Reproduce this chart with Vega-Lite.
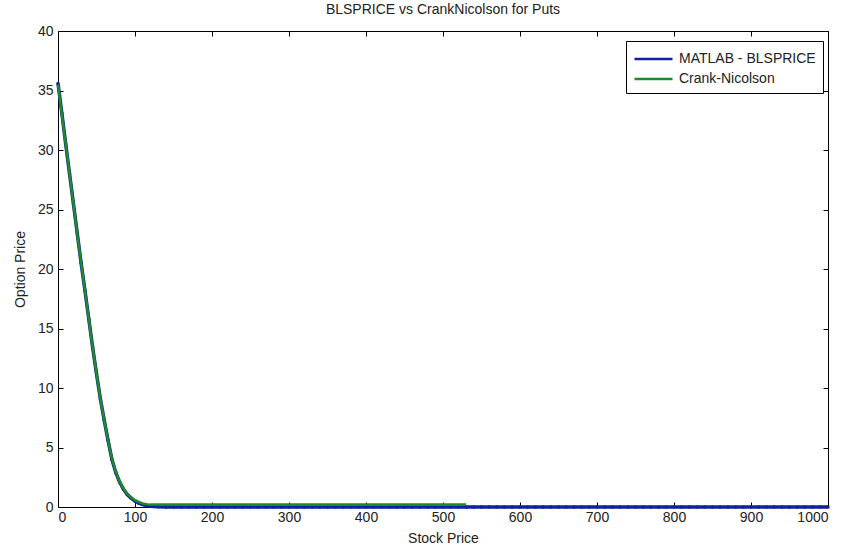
{
  "$schema": "https://vega.github.io/schema/vega-lite/v6.json",
  "width": 770,
  "height": 476,
  "autosize": {"type": "none"},
  "padding": {"left": 58, "top": 31, "right": 18, "bottom": 45},
  "background": "white",
  "config": {
    "view": {"stroke": null},
    "font": "Liberation Sans",
    "axis": {"grid": false, "domainColor": "black", "tickColor": "black", "labelColor": "#222222", "labelFont": "Liberation Sans", "labelFontSize": 14, "titleFont": "Liberation Sans", "titleFontSize": 14, "titleFontWeight": "normal", "titleColor": "#222222", "tickSize": -5, "labelPadding": 10}
  },
  "title": {"text": "BLSPRICE vs CrankNicolson for Puts", "fontSize": 14, "fontWeight": "normal", "font": "Liberation Sans", "color": "#222222", "offset": 7},
  "datasets": {
    "blue": [
      {"S":0,"P":35.6},{"S":5,"P":33.1},{"S":10,"P":30.5},{"S":15,"P":28.0},{"S":20,"P":25.5},{"S":25,"P":23.0},{"S":30,"P":20.5},{"S":35,"P":18.2},{"S":40,"P":15.8},{"S":45,"P":13.4},{"S":50,"P":11.2},{"S":55,"P":9.1},{"S":60,"P":7.3},{"S":65,"P":5.6},{"S":70,"P":4.0},{"S":75,"P":2.9},{"S":80,"P":2.1},{"S":85,"P":1.5},{"S":90,"P":1.05},{"S":95,"P":0.75},{"S":100,"P":0.5},{"S":105,"P":0.32},{"S":110,"P":0.2},{"S":115,"P":0.12},{"S":120,"P":0.07},{"S":125,"P":0.04},{"S":130,"P":0.02},
      {"S":140,"P":0},{"S":150,"P":0},{"S":160,"P":0},{"S":170,"P":0},{"S":180,"P":0},{"S":190,"P":0},{"S":200,"P":0},{"S":210,"P":0},{"S":220,"P":0},{"S":230,"P":0},{"S":240,"P":0},{"S":250,"P":0},{"S":260,"P":0},{"S":270,"P":0},{"S":280,"P":0},{"S":290,"P":0},{"S":300,"P":0},{"S":310,"P":0},{"S":320,"P":0},{"S":330,"P":0},{"S":340,"P":0},{"S":350,"P":0},{"S":360,"P":0},{"S":370,"P":0},{"S":380,"P":0},{"S":390,"P":0},{"S":400,"P":0},{"S":410,"P":0},{"S":420,"P":0},{"S":430,"P":0},{"S":440,"P":0},{"S":450,"P":0},{"S":460,"P":0},{"S":470,"P":0},{"S":480,"P":0},{"S":490,"P":0},{"S":500,"P":0},{"S":510,"P":0},{"S":520,"P":0},{"S":530,"P":0},{"S":540,"P":0},{"S":550,"P":0},{"S":560,"P":0},{"S":570,"P":0},{"S":580,"P":0},{"S":590,"P":0},{"S":600,"P":0},{"S":610,"P":0},{"S":620,"P":0},{"S":630,"P":0},{"S":640,"P":0},{"S":650,"P":0},{"S":660,"P":0},{"S":670,"P":0},{"S":680,"P":0},{"S":690,"P":0},{"S":700,"P":0},{"S":710,"P":0},{"S":720,"P":0},{"S":730,"P":0},{"S":740,"P":0},{"S":750,"P":0},{"S":760,"P":0},{"S":770,"P":0},{"S":780,"P":0},{"S":790,"P":0},{"S":800,"P":0},{"S":810,"P":0},{"S":820,"P":0},{"S":830,"P":0},{"S":840,"P":0},{"S":850,"P":0},{"S":860,"P":0},{"S":870,"P":0},{"S":880,"P":0},{"S":890,"P":0},{"S":900,"P":0},{"S":910,"P":0},{"S":920,"P":0},{"S":930,"P":0},{"S":940,"P":0},{"S":950,"P":0},{"S":960,"P":0},{"S":970,"P":0},{"S":980,"P":0},{"S":990,"P":0},{"S":1000,"P":0}
    ],
    "green": [
      {"S":0,"P":35.5},{"S":5,"P":33.0},{"S":10,"P":30.5},{"S":15,"P":28.0},{"S":20,"P":25.5},{"S":25,"P":23.0},{"S":30,"P":20.5},{"S":35,"P":18.2},{"S":40,"P":15.8},{"S":45,"P":13.4},{"S":50,"P":11.2},{"S":55,"P":9.1},{"S":60,"P":7.3},{"S":65,"P":5.6},{"S":70,"P":4.05},{"S":75,"P":2.95},{"S":80,"P":2.15},{"S":85,"P":1.55},{"S":90,"P":1.1},{"S":95,"P":0.8},{"S":100,"P":0.57},{"S":105,"P":0.42},{"S":110,"P":0.3},{"S":115,"P":0.24},
      {"S":120,"P":0.2},{"S":130,"P":0.2},{"S":140,"P":0.2},{"S":150,"P":0.2},{"S":160,"P":0.2},{"S":170,"P":0.2},{"S":180,"P":0.2},{"S":190,"P":0.2},{"S":200,"P":0.2},{"S":210,"P":0.2},{"S":220,"P":0.2},{"S":230,"P":0.2},{"S":240,"P":0.2},{"S":250,"P":0.2},{"S":260,"P":0.2},{"S":270,"P":0.2},{"S":280,"P":0.2},{"S":290,"P":0.2},{"S":300,"P":0.2},{"S":310,"P":0.2},{"S":320,"P":0.2},{"S":330,"P":0.2},{"S":340,"P":0.2},{"S":350,"P":0.2},{"S":360,"P":0.2},{"S":370,"P":0.2},{"S":380,"P":0.2},{"S":390,"P":0.2},{"S":400,"P":0.2},{"S":410,"P":0.2},{"S":420,"P":0.2},{"S":430,"P":0.2},{"S":440,"P":0.2},{"S":450,"P":0.2},{"S":460,"P":0.2},{"S":470,"P":0.2},{"S":480,"P":0.2},{"S":490,"P":0.2},{"S":500,"P":0.2},{"S":510,"P":0.2},{"S":520,"P":0.2},{"S":530,"P":0.2}
    ]
  },
  "layer": [
    {
      "data": {"name": "blue"},
      "mark": {"type": "line", "strokeWidth": 3.5},
      "encoding": {
        "x": {"field": "S", "type": "quantitative", "scale": {"domain": [0, 1000], "nice": false, "zero": false}, "axis": {"title": "Stock Price", "values": [0,100,200,300,400,500,600,700,800,900,1000], "format": "d", "labelPadding": 8, "titlePadding": 7}},
        "y": {"field": "P", "type": "quantitative", "scale": {"domain": [0, 40], "nice": false}, "axis": {"title": "Option Price", "values": [0,5,10,15,20,25,30,35,40], "titlePadding": 10}},
        "color": {"datum": "MATLAB - BLSPRICE", "scale": {"domain": ["MATLAB - BLSPRICE", "Crank-Nicolson"], "range": ["#1020a0", "#1e8a28"]},
          "legend": {"title": null, "orient": "none", "legendX": 568, "legendY": 10, "strokeColor": "black", "fillColor": "white", "padding": 7, "symbolType": "M-1,0H3", "symbolSize": 361, "symbolStrokeWidth": 2.5, "labelFontSize": 14, "labelFont": "Liberation Sans", "labelColor": "#222222", "rowPadding": 2, "labelOffset": 24}}
      }
    },
    {
      "data": {"name": "blue"},
      "mark": {"type": "point", "filled": true, "size": 12, "color": "#1020a0", "opacity": 1},
      "encoding": {
        "x": {"field": "S", "type": "quantitative", "axis": null},
        "y": {"field": "P", "type": "quantitative", "axis": null}
      }
    },
    {
      "data": {"name": "green"},
      "mark": {"type": "line", "strokeWidth": 2.5},
      "encoding": {
        "x": {"field": "S", "type": "quantitative", "axis": {"orient": "top", "labels": false, "title": null, "values": [0,100,200,300,400,500,600,700,800,900,1000]}},
        "y": {"field": "P", "type": "quantitative", "axis": {"orient": "right", "labels": false, "title": null, "values": [0,5,10,15,20,25,30,35,40]}},
        "color": {"datum": "Crank-Nicolson"}
      }
    }
  ],
  "resolve": {"axis": {"x": "independent", "y": "independent"}}
}
